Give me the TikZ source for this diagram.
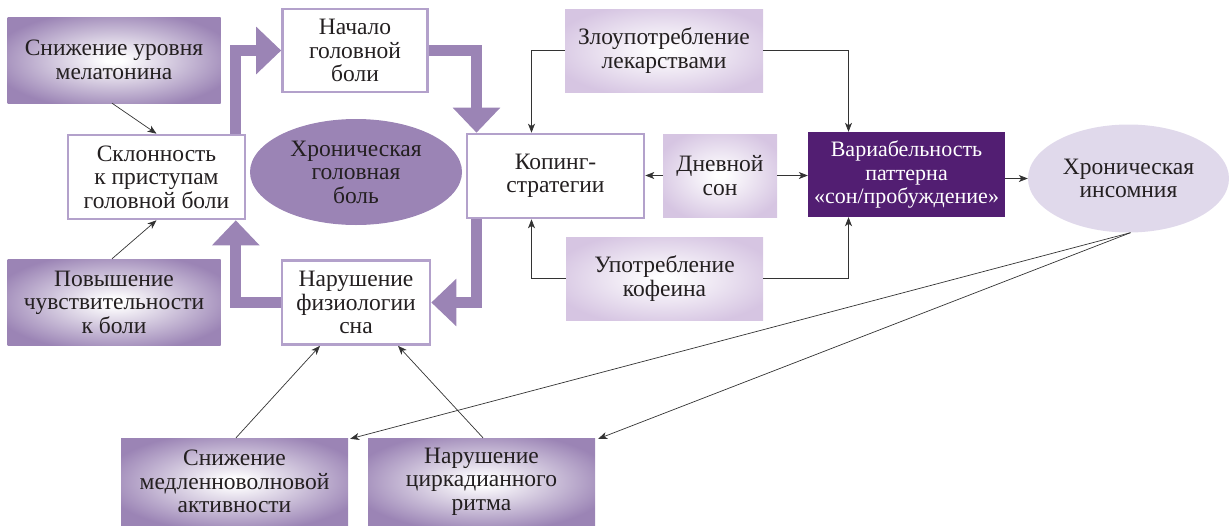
\documentclass[tikz,border=0pt]{standalone}
\usepackage{fontspec}
\setmainfont{Liberation Serif}
\usetikzlibrary{arrows.meta,shapes.geometric,calc}
\definecolor{pp}{HTML}{9B84B5}
\definecolor{bord}{HTML}{B3A1CB}
\definecolor{lpp}{HTML}{D6C5E2}
\definecolor{darkpp}{HTML}{521E72}
\definecolor{insom}{HTML}{E0D9EB}
\definecolor{txt}{HTML}{231F20}
\pgfdeclareradialshading{purpsh}{\pgfpoint{0bp}{0bp}}{color(0bp)=(white); color(2bp)=(white); color(29bp)=(pp); color(50bp)=(pp)}
\pgfdeclareradialshading{lightsh}{\pgfpoint{0bp}{0bp}}{color(0bp)=(white); color(2bp)=(white); color(29bp)=(lpp); color(50bp)=(lpp)}
\tikzset{
  base/.style={rectangle, inner sep=0pt, align=center, text=txt,
    font=\fontsize{23.5}{23.5}\selectfont},
  whitebox/.style={base, draw=bord, line width=2.6pt, fill=white},
  purpbox/.style={base, shading=purpsh},
  lightbox/.style={base, shading=lightsh},
  darkbox/.style={base, fill=darkpp, text=white, font=\fontsize{22}{23.5}\selectfont},
  ell/.style={ellipse, inner sep=0pt, align=center, text=txt,
    font=\fontsize{23.5}{23.5}\selectfont},
  bigarrow/.style={draw=pp, line width=11pt, line join=miter,
    -{Triangle[length=25pt,width=46pt]}},
  thinarrow/.style={draw=black!80, line width=0.7pt,
    -{Stealth[length=9pt,width=7pt,inset=2.5pt]}}
}
\begin{document}
\begin{tikzpicture}[x=1pt,y=-1pt]
\useasboundingbox (0,0) rectangle (1229,525);
% nodes
\node[purpbox, minimum width=213pt, minimum height=86pt] (mel) at (114,60) {Снижение уровня\\мелатонина};
\node[whitebox, minimum width=145pt, minimum height=83pt] (nach) at (355,50.5) {Начало\\головной\\боли};
\node[whitebox, minimum width=177pt, minimum height=84pt] (skl) at (156.5,177) {Склонность\\к приступам\\головной боли};
\node[ell, fill=pp, minimum width=212pt, minimum height=106pt] (hgb) at (356,172) {Хроническая\\головная\\боль};
\node[purpbox, minimum width=213pt, minimum height=86pt] (pov) at (114,302) {Повышение\\чувствительности\\к боли};
\node[whitebox, minimum width=148pt, minimum height=84pt] (nfs) at (356,302.5) {Нарушение\\физиологии\\сна};
\node[whitebox, minimum width=177pt, minimum height=84pt] (kop) at (555.5,176) {Копинг-\\стратегии};
\node[lightbox, minimum width=198pt, minimum height=83pt] (zlo) at (664,50.5) {Злоупотребление\\лекарствами};
\node[lightbox, minimum width=114pt, minimum height=83pt] (dns) at (720,175.5) {Дневной\\сон};
\node[darkbox, minimum width=197pt, minimum height=85pt] (var) at (906.5,174.5) {Вариабельность\\паттерна\\«сон/пробуждение»};
\node[ell, fill=insom, minimum width=201pt, minimum height=108pt] (ins) at (1128.5,178.5) {Хроническая\\инсомния};
\node[lightbox, minimum width=197pt, minimum height=83pt] (kof) at (664.5,278.5) {Употребление\\кофеина};
\node[purpbox, minimum width=227pt, minimum height=87pt] (smv) at (234.5,481.5) {Снижение\\медленноволновой\\активности};
\node[purpbox, minimum width=227pt, minimum height=87pt] (ncr) at (481.5,481.5) {Нарушение\\циркадианного\\ритма};
% thick arrows
\draw[bigarrow] ([xshift=-10.5pt]skl.north east) |- (nach.west);
\draw[bigarrow] (nach.east) -| ([xshift=-79pt]kop.north);
\draw[bigarrow] ([xshift=-79pt]kop.south) |- (nfs.east);
\draw[bigarrow] (nfs.west) -| ([xshift=-10.5pt]skl.south east);
% thin arrows
\draw[thinarrow] ([xshift=-2pt]mel.south) -- (skl.north);
\draw[thinarrow] ([xshift=-2pt]pov.north) -- (skl.south);
\draw[thinarrow] (zlo.west) -| ([xshift=-24pt]kop.north);
\draw[thinarrow] (kof.west) -| ([xshift=-24pt]kop.south);
\draw[thinarrow] (zlo.east) -| ([xshift=-58pt]var.north);
\draw[thinarrow] (kof.east) -| ([xshift=-58pt]var.south);
\draw[thinarrow] (dns.west) -- (dns.west -| kop.east);
\draw[thinarrow] (dns.east) -- (dns.east -| var.west);
\draw[thinarrow] (ins.west -| var.east) -- (ins.west);
\draw[thinarrow] ([xshift=2pt]ins.south) -- ([xshift=2pt,yshift=-1pt]smv.north east);
\draw[thinarrow] ([xshift=2pt]ins.south) -- ([xshift=3pt,yshift=-1pt]ncr.north east);
\draw[thinarrow] ([xshift=1.5pt]smv.north) -- ([xshift=-36pt]nfs.south);
\draw[thinarrow] ([xshift=1.5pt]ncr.north) -- ([xshift=42pt]nfs.south);
\end{tikzpicture}
\end{document}
